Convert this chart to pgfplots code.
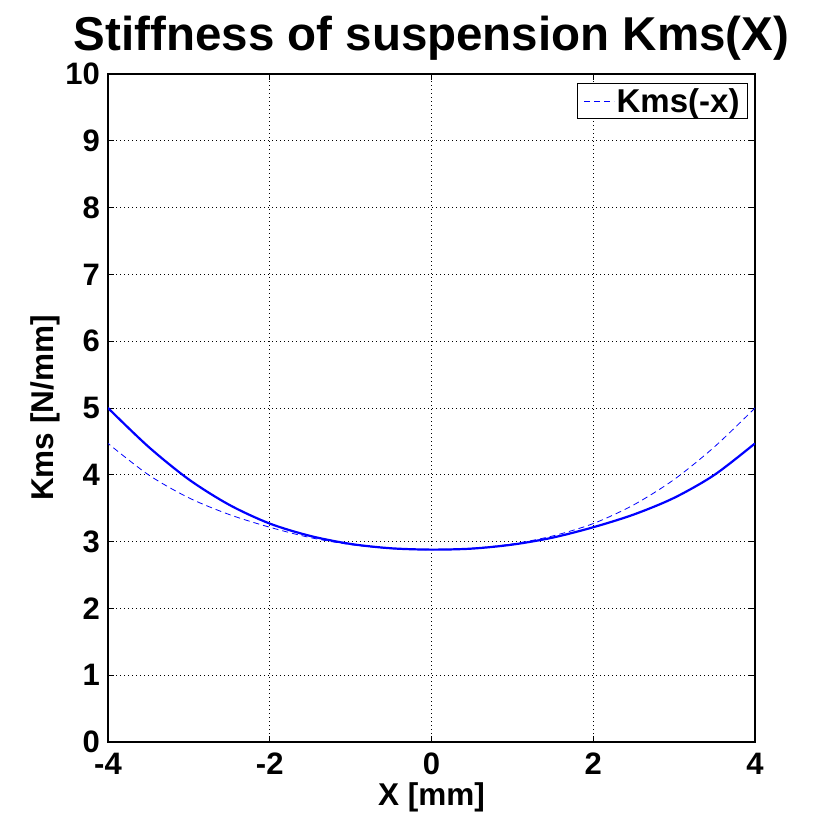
\documentclass[border=0pt]{standalone}
\usepackage{fontspec}
\setmainfont{Liberation Sans}
\usepackage{pgfplots}
\pgfplotsset{compat=1.18}
\usepackage{pgfplotstable}
\definecolor{mblue}{RGB}{0,0,255}
\pgfplotstableread{
x K
-4.0 5.000
-3.5 4.420
-3.0 3.930
-2.5 3.550
-2.0 3.270
-1.5 3.085
-1.0 2.965
-0.5 2.900
0.0 2.880
0.5 2.895
1.0 2.955
1.5 3.060
2.0 3.215
2.5 3.405
3.0 3.655
3.5 4.000
4.0 4.470
}\kms
\begin{document}
\begin{tikzpicture}
\useasboundingbox (-108pt,-91pt) rectangle (726pt,742pt);
\begin{axis}[
  at={(0pt,0pt)}, anchor=south west,
  scale only axis,
  width=647pt, height=668pt,
  xmin=-4, xmax=4, ymin=0, ymax=10,
  xtick={-4,-2,0,2,4},
  ytick={0,1,...,10},
  tick align=inside, tick pos=both,
  major tick length=6pt,
  axis line style={line width=1.2pt},
  every tick/.style={line width=1pt, black},
  grid=major,
  major grid style={black, line width=1pt, dash pattern=on 1pt off 3pt},
  /pgf/number format/assume math mode=true,
  ticklabel style={font=\fontsize{31}{31}\selectfont\bfseries, inner sep=0pt},
  xticklabel style={yshift=-10.5pt},
  yticklabel style={xshift=-8pt},
  title={Stiffness of suspension Kms(X)},
  title style={at={(axis description cs:0.5,1.0255)}, anchor=base, font=\fontsize{47.5}{47.5}\selectfont\bfseries},
  xlabel={X [mm]},
  ylabel={Kms [N/mm]},
  every axis x label/.style={at={(axis description cs:0.5,-0.0958)}, anchor=base, font=\fontsize{31.5}{31.5}\selectfont\bfseries},
  every axis y label/.style={at={(axis description cs:-0.0835,0.5)}, rotate=90, anchor=base, font=\fontsize{31.5}{31.5}\selectfont\bfseries},
  legend style={at={(axis description cs:0.9892,0.9865)}, anchor=north east, draw=black, line width=1pt, fill=white,
    font=\fontsize{33}{33}\selectfont\bfseries, inner xsep=6pt, inner ysep=3pt, row sep=0pt},
  legend cell align=left,
  legend image code/.code={\draw[#1] (0pt,0pt) -- (30pt,0pt);},
]
\addplot[mblue, line width=2.2pt, smooth, forget plot] table[x=x, y=K] {\kms};
\addplot[mblue, line width=0.8pt, dash pattern=on 6pt off 4pt, smooth] table[x expr=-\thisrow{x}, y=K] {\kms};
\addlegendentry{Kms(-x)}
\end{axis}
\end{tikzpicture}
\end{document}
